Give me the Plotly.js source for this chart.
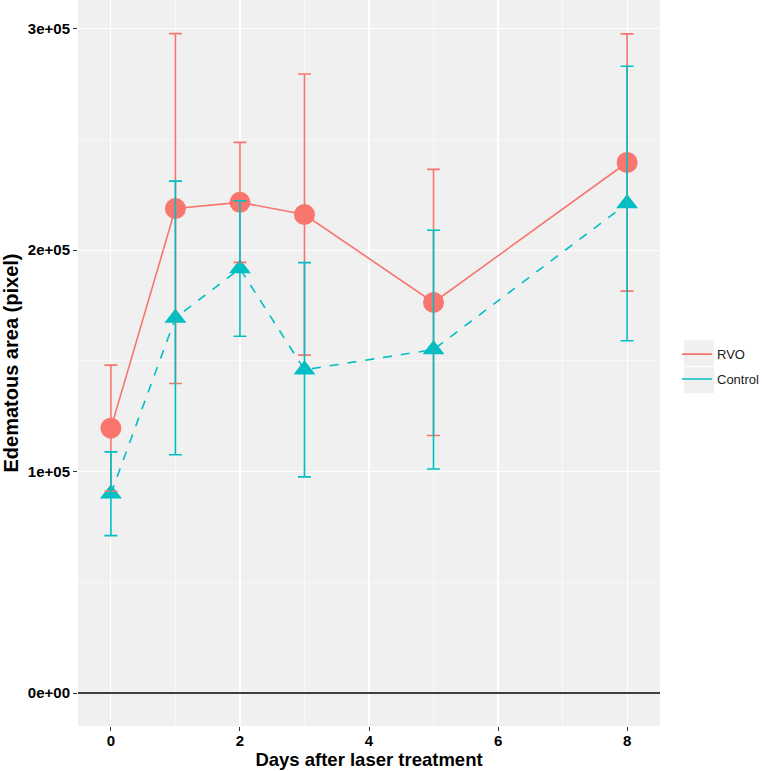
<!DOCTYPE html>
<html>
<head>
<meta charset="utf-8">
<script src="https://cdn.plot.ly/plotly-3.0.1.min.js"></script>
<style>html,body{margin:0;padding:0;background:#fff;}#chart{width:762px;height:771px;}</style>
</head>
<body>
<div id="chart"></div>
<script>
// ---- data ----
const days = [0, 1, 2, 3, 5, 8];
const groupNames = ['RVO', 'Control'];
const rvoMean = [119600, 218800, 221600, 216100, 176400, 239600];
const rvoErr  = [28500, 79000, 27100, 63500, 60100, 58100];
const ctrlMean = [90000, 169400, 191700, 146000, 155100, 221100];
const ctrlErr  = [18900, 61800, 30600, 48400, 53900, 62000];
const xTickVals = [0, 2, 4, 6, 8];
const xTickText = ['0', '2', '4', '6', '8'];
const yTickVals = [0, 100000, 200000, 300000];
const yTickText = ['0e+00', '1e+05', '2e+05', '3e+05'];
const refLineY = 0;

// ---- styles ----
const cRVO = '#F8766D', cCtrl = '#00BFC4';
const fontFam = 'Liberation Sans, Arial, Helvetica, sans-serif';
const keyBg = '#F0F0F0';

const traces = [
  {x: days, y: rvoMean, name: groupNames[0], type: 'scatter', mode: 'lines',
   line: {color: cRVO, width: 1.6}, showlegend: false, hoverinfo: 'skip'},
  {x: days, y: ctrlMean, name: groupNames[1], type: 'scatter', mode: 'lines',
   line: {color: cCtrl, width: 1.6, dash: 'dash'}, showlegend: false, hoverinfo: 'skip'},
  {x: days, y: rvoMean, type: 'scatter', mode: 'markers', showlegend: false,
   marker: {symbol: 'circle', size: 21, color: cRVO}},
  {x: days, y: ctrlMean, type: 'scatter', mode: 'markers', showlegend: false,
   marker: {symbol: 'triangle-up', size: 19, color: cCtrl}},
  {x: days, y: rvoMean, type: 'scatter', mode: 'markers', showlegend: false,
   marker: {size: 1, opacity: 0},
   error_y: {type: 'data', array: rvoErr, visible: true, color: cRVO, thickness: 1.6, width: 6.5}},
  {x: days, y: ctrlMean, type: 'scatter', mode: 'markers', showlegend: false,
   marker: {size: 1, opacity: 0},
   error_y: {type: 'data', array: ctrlErr, visible: true, color: cCtrl, thickness: 1.6, width: 6.5}},
  // legend entries (solid keys, as in the reference)
  {x: [null], y: [null], name: groupNames[0], type: 'scatter', mode: 'lines', legendgroup: 'g1',
   line: {color: cRVO, width: 1.6}, showlegend: true},
  {x: [null], y: [null], name: groupNames[1], type: 'scatter', mode: 'lines', legendgroup: 'g2',
   line: {color: cCtrl, width: 1.6}, showlegend: true}
];

const layout = {
  width: 762, height: 771,
  margin: {l: 78, r: 102, t: 0, b: 45.3, pad: 0, autoexpand: false},
  paper_bgcolor: '#ffffff',
  plot_bgcolor: '#F0F0F0',
  font: {family: fontFam, color: '#000'},
  xaxis: {
    range: [-0.51, 8.51], tickmode: 'array', tickvals: xTickVals, ticktext: xTickText,
    showgrid: true, gridcolor: '#ffffff', gridwidth: 1.1, zeroline: false, showline: false,
    ticks: 'outside', ticklen: 4, tickwidth: 1, tickcolor: '#333333', ticklabelstandoff: -3,
    tickfont: {size: 15, weight: 'bold', color: '#000', family: fontFam},
    minor: {tickmode: 'linear', tick0: 0, dtick: 1, showgrid: true, gridcolor: '#ffffff', gridwidth: 0.55, ticks: ''},
    title: {text: 'Days after laser treatment', font: {size: 18.5, weight: 'bold', color: '#000', family: fontFam}, standoff: 5},
    automargin: false
  },
  yaxis: {
    range: [-14900, 313000], tickmode: 'array', tickvals: yTickVals, ticktext: yTickText,
    showgrid: true, gridcolor: '#ffffff', gridwidth: 1.1, zeroline: false, showline: false,
    ticks: 'outside', ticklen: 4, tickwidth: 1, tickcolor: '#333333',
    tickfont: {size: 15, weight: 'bold', color: '#000', family: fontFam},
    minor: {tickmode: 'linear', tick0: 0, dtick: 50000, showgrid: true, gridcolor: '#ffffff', gridwidth: 0.55, ticks: ''},
    title: {text: 'Edematous area (pixel)', font: {size: 20, weight: 'bold', color: '#000', family: fontFam}, standoff: 6},
    automargin: false
  },
  shapes: [
    {type: 'line', xref: 'paper', x0: 0, x1: 1, yref: 'y', y0: refLineY, y1: refLineY,
     line: {color: '#000', width: 1.6}, layer: 'above'},
    // legend key backgrounds
    {type: 'rect', xref: 'paper', yref: 'paper', x0: 1.0412, x1: 1.0928, y0: 0.4957, y1: 0.5315,
     fillcolor: keyBg, line: {width: 0}, layer: 'below'},
    {type: 'rect', xref: 'paper', yref: 'paper', x0: 1.0412, x1: 1.0928, y0: 0.4585, y1: 0.4943,
     fillcolor: keyBg, line: {width: 0}, layer: 'below'}
  ],
  legend: {
    x: 1.0292, xanchor: 'left', y: 0.4950, yanchor: 'middle',
    bgcolor: 'rgba(0,0,0,0)', borderwidth: 0,
    font: {size: 13, color: '#1a1a1a', family: fontFam},
    itemwidth: 30, tracegroupgap: 5
  },
  showlegend: true
};

Plotly.newPlot('chart', traces, layout, {displayModeBar: false, staticPlot: true});
</script>
</body>
</html>
